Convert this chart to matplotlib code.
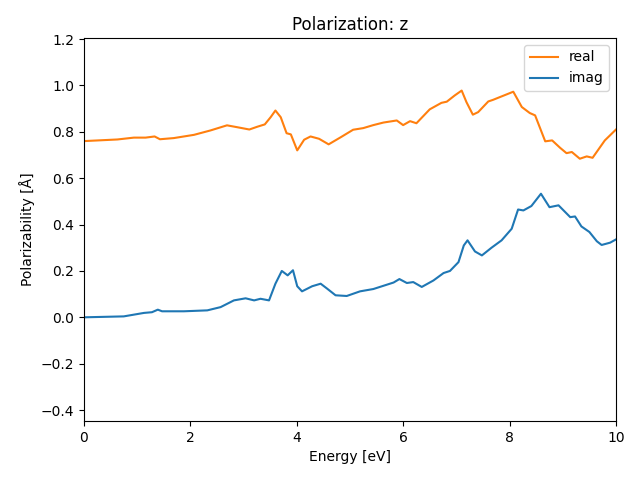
import matplotlib
matplotlib.use("Agg")
import matplotlib.pyplot as plt

# values
energy_real = [0.0, 0.63, 0.94, 1.16, 1.33, 1.43, 1.69, 2.07, 2.38, 2.69, 2.88, 3.11,
               3.26, 3.40, 3.51, 3.60, 3.70, 3.81, 3.89, 4.01, 4.14, 4.26, 4.42, 4.60,
               4.83, 5.06, 5.25, 5.44, 5.63, 5.88, 6.00, 6.13, 6.25, 6.50, 6.72, 6.82,
               6.97, 7.10, 7.19, 7.31, 7.41, 7.60, 7.69, 7.82, 7.94, 8.07, 8.23, 8.38,
               8.48, 8.67, 8.80, 8.95, 9.07, 9.17, 9.32, 9.45, 9.56, 9.79, 10.0]
real = [0.760, 0.767, 0.775, 0.775, 0.780, 0.768, 0.773, 0.787, 0.806, 0.828, 0.820, 0.810,
        0.822, 0.832, 0.863, 0.892, 0.863, 0.794, 0.789, 0.720, 0.766, 0.780, 0.770, 0.746,
        0.777, 0.809, 0.816, 0.829, 0.840, 0.849, 0.829, 0.846, 0.837, 0.897, 0.925, 0.930,
        0.957, 0.978, 0.928, 0.874, 0.885, 0.931, 0.938, 0.950, 0.961, 0.973, 0.907, 0.881,
        0.871, 0.759, 0.763, 0.731, 0.708, 0.713, 0.684, 0.694, 0.688, 0.763, 0.810]

energy_imag = [0.0, 0.75, 1.13, 1.28, 1.39, 1.47, 1.88, 2.32, 2.57, 2.82, 3.04, 3.20,
               3.32, 3.48, 3.60, 3.72, 3.83, 3.93, 4.01, 4.10, 4.29, 4.45, 4.57, 4.73,
               4.94, 5.19, 5.44, 5.82, 5.93, 6.07, 6.19, 6.35, 6.57, 6.76, 6.88, 7.04,
               7.14, 7.21, 7.35, 7.48, 7.66, 7.85, 8.04, 8.16, 8.26, 8.41, 8.59, 8.75,
               8.92, 9.14, 9.23, 9.35, 9.50, 9.64, 9.73, 9.89, 10.0]
imag = [0.0, 0.004, 0.019, 0.022, 0.033, 0.026, 0.026, 0.030, 0.044, 0.073, 0.082, 0.073,
        0.080, 0.073, 0.145, 0.200, 0.181, 0.203, 0.134, 0.112, 0.134, 0.145, 0.124, 0.095,
        0.092, 0.112, 0.122, 0.150, 0.165, 0.148, 0.152, 0.131, 0.159, 0.191, 0.200, 0.238,
        0.310, 0.332, 0.284, 0.267, 0.300, 0.332, 0.382, 0.465, 0.461, 0.480, 0.533, 0.475,
        0.483, 0.432, 0.435, 0.392, 0.368, 0.328, 0.312, 0.322, 0.336]

fig, ax = plt.subplots(figsize=(6.4, 4.8), dpi=100)
ax.plot(energy_real, real, color="C1", label="real")
ax.plot(energy_imag, imag, color="C0", label="imag")
ax.set_xlim(0, 10)
ax.set_ylim(-0.447, 1.205)
ax.set_xlabel("Energy [eV]")
ax.set_ylabel("Polarizability [Å]")
ax.set_title("Polarization: z")
ax.legend(loc="upper right")
fig.subplots_adjust(left=0.131, right=0.9625, top=0.921, bottom=0.123)
fig.savefig("out.png")
